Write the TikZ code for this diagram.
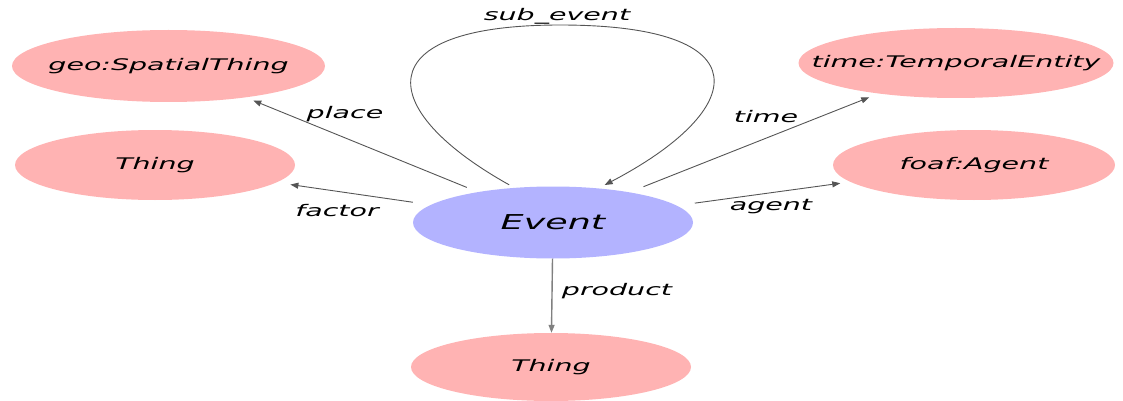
\documentclass[tikz,border=0pt]{standalone}
\usepackage{fontspec}
\setmainfont{DejaVu Sans}[FakeStretch=1.78]
\usetikzlibrary{shapes.geometric,arrows.meta}
\definecolor{pinkfill}{RGB}{255,179,179}
\definecolor{eventfill}{RGB}{179,179,255}
\definecolor{edgegray}{RGB}{85,85,85}

\begin{document}
\begin{tikzpicture}[x=1pt, y=-1pt,
  cls/.style={ellipse, fill=pinkfill, inner ysep=0pt, inner xsep=-40pt, font=\fontsize{16}{19}\selectfont\itshape},
  evt/.style={ellipse, fill=eventfill, inner ysep=0pt, inner xsep=-40pt, font=\fontsize{20.5}{24}\selectfont\itshape},
  lbl/.style={inner sep=0pt, font=\fontsize{16}{19}\selectfont\itshape},
  rel/.style={draw=edgegray, line width=0.9pt, -{Triangle[length=8pt,width=6pt]}}]
\useasboundingbox (0,0) rectangle (1123,401);

\node[evt, minimum width=280pt, minimum height=72pt] (ev) at (553,222.5) {Event};
\node[cls, minimum width=313pt, minimum height=72pt] (geo) at (168.5,66) {geo:SpatialThing};
\node[cls, minimum width=280pt, minimum height=70pt] (thingl) at (155,165) {Thing};
\node[cls, minimum width=315pt, minimum height=70pt] (tim) at (956,63) {time:TemporalEntity};
\node[cls, minimum width=282pt, minimum height=70pt] (agt) at (974,165) {foaf:Agent};
\node[cls, minimum width=280pt, minimum height=68pt] (thingb) at (551,367) {Thing};

\draw[rel, shorten <=12pt, shorten >=8pt] (ev) -- (geo);
\node[lbl] (lplace) at (345,114) {place};
\draw[rel, shorten <=18pt, shorten >=14pt] (ev) -- (thingl);
\node[lbl] (lfactor) at (337,211) {factor};
\draw[rel, shorten <=15pt, shorten >=10pt] (ev) -- (tim);
\node[lbl] (ltime) at (766,117) {time};
\draw[rel, shorten <=18pt, shorten >=10pt] (ev) -- (agt);
\node[lbl] (lagent) at (771,207) {agent};
\draw[rel, draw=gray, line width=1.4pt] (ev) -- (thingb);
\node[lbl] (lproduct) at (617,291) {product};

\draw[rel, shorten <=6pt, shorten >=7pt] (ev.138) .. controls (375,110) and (365,25) .. (560,25)
  .. controls (765,25) and (748,110) .. (ev.37);
\node[lbl] (lsub) at (557,16) {sub\_event};
\end{tikzpicture}
\end{document}
